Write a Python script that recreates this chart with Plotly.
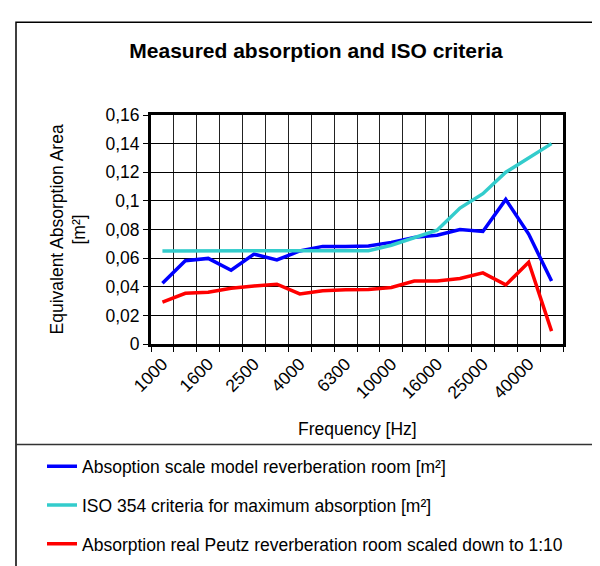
import plotly.graph_objects as go

# ---- data ----
frequencies = ["1000", "1250", "1600", "2000", "2500", "3150", "4000", "5000", "6300",
               "8000", "10000", "12500", "16000", "20000", "25000", "31500", "40000", "50000"]
tick_labels = ["1000", "", "1600", "", "2500", "", "4000", "", "6300",
               "", "10000", "", "16000", "", "25000", "", "40000", ""]
scale_model = [0.0424, 0.0582, 0.0598, 0.0515, 0.0628, 0.0587, 0.0650, 0.0682, 0.0682,
               0.0684, 0.0710, 0.0745, 0.0760, 0.0800, 0.0786, 0.1010, 0.0768, 0.0440]
iso_criteria = [0.0650, 0.0650, 0.0650, 0.0650, 0.0650, 0.0650, 0.0650, 0.0650, 0.0650,
                0.0652, 0.0690, 0.0745, 0.0795, 0.0950, 0.1050, 0.1200, 0.1300, 0.1400]
peutz_room = [0.0293, 0.0354, 0.0361, 0.0390, 0.0406, 0.0418, 0.0350, 0.0372, 0.0379,
              0.0381, 0.0395, 0.0440, 0.0440, 0.0458, 0.0497, 0.0413, 0.0571, 0.0090]
series_names = ["Absoption scale model reverberation room [m²]",
                "ISO 354 criteria for maximum absorption [m²]",
                "Absorption real Peutz reverberation room scaled down to 1:10"]
series_colors = ["#0000FF", "#33CCCC", "#FF0000"]

FONT = "Arial, Liberation Sans, sans-serif"
W, H = 600, 566
L, R, T, B = 143, 555, 107, 344  # plot area in pixels


def px_x(p):
    return (p - L) / (R - L)


def px_y(p):
    return (B - p) / (B - T)


fig = go.Figure()
for i, (vals, name, col) in enumerate(zip([scale_model, iso_criteria, peutz_room],
                                          series_names, series_colors)):
    fig.add_trace(go.Scatter(x=frequencies, y=vals, mode="lines", name=name,
                             legendgroup=f"g{i}",
                             line=dict(color=col, width=3.5)))

fig.update_layout(
    width=W, height=H,
    margin=dict(l=L, r=W - R, t=T, b=H - B),
    paper_bgcolor="white", plot_bgcolor="white",
    separators=", ",
    font=dict(family=FONT, size=17.5, color="black"),
    title=dict(text="<b>Measured absorption and ISO criteria</b>",
               font=dict(family=FONT, size=21, color="black"),
               x=308 / W, xanchor="center", xref="container",
               y=1 - 43 / H, yanchor="middle", yref="container"),
    showlegend=True,
    legend=dict(orientation="v", x=px_x(34), xanchor="left",
                y=px_y(452), yanchor="top",
                font=dict(family=FONT, size=17.5, color="black"),
                tracegroupgap=13, bgcolor="rgba(0,0,0,0)", borderwidth=0),
    xaxis=dict(type="category", range=[-0.5, 17.5],
               tickmode="array", tickvals=frequencies, ticktext=tick_labels,
               tickson="boundaries", tickangle=-45,
               ticks="outside", ticklen=5, tickcolor="black", tickwidth=1,
               showgrid=True, gridcolor="#222222", gridwidth=1,
               showline=True, linecolor="black", linewidth=3, mirror=True,
               tickfont=dict(family=FONT, size=17.5, color="black"),
               zeroline=False),
    yaxis=dict(range=[0, 0.16], dtick=0.02, tick0=0,
               ticks="outside", ticklen=5, tickcolor="black", tickwidth=1,
               showgrid=True, gridcolor="black", gridwidth=1,
               showline=True, linecolor="black", linewidth=3, mirror=True,
               tickfont=dict(family=FONT, size=17.5, color="black"),
               zeroline=False),
    annotations=[
        dict(text="Equivalent Absorption Area<br>[m²]", textangle=-90,
             xref="paper", yref="paper", x=px_x(60), y=0.5,
             xanchor="center", yanchor="middle", showarrow=False,
             font=dict(family=FONT, size=17.5, color="black")),
        dict(text="Frequency [Hz]", xref="paper", yref="paper",
             x=0.5, y=px_y(432), xanchor="center", yanchor="middle",
             showarrow=False, font=dict(family=FONT, size=17.5, color="black")),
    ],
    shapes=[
        dict(type="rect", xref="paper", yref="paper",
             x0=px_x(8), x1=px_x(597), y0=px_y(575), y1=px_y(11),
             line=dict(color="black", width=1.5), layer="below"),
        dict(type="line", xref="paper", yref="paper",
             x0=px_x(8), x1=px_x(597), y0=px_y(448), y1=px_y(448),
             line=dict(color="#333333", width=1.5)),
    ],
)

fig.write_html("out.html")
